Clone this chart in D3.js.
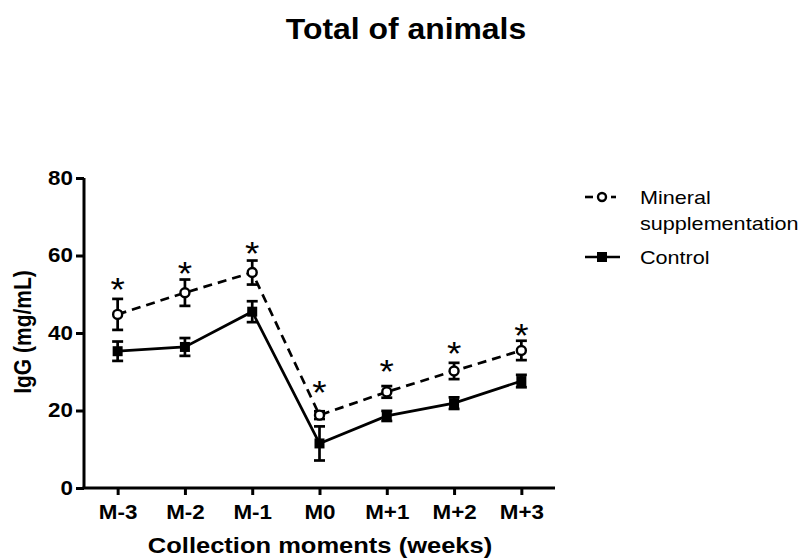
<!DOCTYPE html>
<html>
<head>
<meta charset="utf-8">
<script src="https://cdn.jsdelivr.net/npm/d3@7"></script>
<style>
  html, body { margin: 0; padding: 0; background: #fff; }
  svg { display: block; font-family: "Liberation Sans", Arial, Helvetica, sans-serif; }
</style>
</head>
<body>
<svg id="chart" width="803" height="560"></svg>
<script>
// ---- data ----
const categories = ["M-3", "M-2", "M-1", "M0", "M+1", "M+2", "M+3"];
const mineralMean = [44.8, 50.4, 55.6, 18.8, 24.8, 30.2, 35.5];
const mineralErr  = [4.0, 3.4, 3.1, 1.0, 1.5, 2.1, 2.5];
const controlMean = [35.3, 36.4, 45.5, 11.5, 18.6, 21.9, 27.6];
const controlErr  = [2.5, 2.3, 2.7, 4.4, 1.3, 1.5, 1.6];
const starLevel   = [53.2, 57.3, 62.4, 26.6, 32.1, 36.7, 41.2];
const yTicks = [0, 20, 40, 60, 80];
const seriesNames = ["Mineral", "supplementation", "Control"];

// ---- layout ----
const SX = 1.12; // horizontal stretch of text seen in the reference
const svg = d3.select("#chart");
const x = d3.scalePoint().domain(categories).range([84, 555]).padding(0.5);
const y = d3.scaleLinear().domain([0, 80]).range([488, 178]);

// title
svg.append("text").attr("transform", "translate(406,39) scale(1.1,1)")
  .attr("text-anchor", "middle")
  .attr("font-size", 29).attr("font-weight", "bold").text("Total of animals");

// axes
const yAxis = svg.append("g").attr("transform", "translate(84,0)")
  .call(d3.axisLeft(y).tickValues(yTicks).tickSize(8).tickPadding(3).tickFormat(d3.format("d")));
const xAxis = svg.append("g").attr("transform", "translate(0,488)")
  .call(d3.axisBottom(x).tickSize(7).tickPadding(10).tickSizeOuter(0));
[yAxis, xAxis].forEach(g => {
  g.select(".domain").attr("stroke", "#000").attr("stroke-width", 3);
  g.selectAll(".tick line").attr("stroke", "#000").attr("stroke-width", 3);
  g.selectAll(".tick text").attr("fill", "#000").attr("font-size", 20)
    .attr("font-weight", "bold").attr("font-family", "Liberation Sans, Arial, sans-serif")
    .attr("transform", `scale(${SX},1)`);
});
yAxis.selectAll(".tick text").attr("x", -11 / SX);
yAxis.select(".domain").attr("d", "M0," + y(80) + "V" + y(0));
xAxis.select(".domain").attr("d", "M82.5,0H555");

// axis titles
svg.append("text").attr("transform", "translate(31,332) rotate(-90) scale(1,1.1)")
  .attr("text-anchor", "middle").attr("font-size", 21).attr("font-weight", "bold")
  .text("IgG (mg/mL)");
svg.append("text").attr("transform", "translate(320,553) scale(1.16,1)")
  .attr("text-anchor", "middle")
  .attr("font-size", 22).attr("font-weight", "bold").text("Collection moments (weeks)");

// lines
const line = d3.line().x((d, i) => x(categories[i])).y(d => y(d));
svg.append("path").datum(controlMean).attr("d", line)
  .attr("fill", "none").attr("stroke", "#000").attr("stroke-width", 2.7);
svg.append("path").datum(mineralMean).attr("d", line)
  .attr("fill", "none").attr("stroke", "#000").attr("stroke-width", 2.7)
  .attr("stroke-dasharray", "9,6");

// error bars
function errBars(means, errs) {
  const g = svg.append("g").attr("stroke", "#000").attr("stroke-width", 2.7);
  means.forEach((m, i) => {
    const cx = x(categories[i]);
    const t = y(m + errs[i]), b = y(m - errs[i]);
    g.append("line").attr("x1", cx).attr("x2", cx).attr("y1", t).attr("y2", b);
    g.append("line").attr("x1", cx - 5.5).attr("x2", cx + 5.5).attr("y1", t).attr("y2", t);
    g.append("line").attr("x1", cx - 5.5).attr("x2", cx + 5.5).attr("y1", b).attr("y2", b);
  });
}
errBars(controlMean, controlErr);
errBars(mineralMean, mineralErr);

// markers
svg.append("g").selectAll("rect").data(controlMean).join("rect")
  .attr("x", (d, i) => x(categories[i]) - 5).attr("y", d => y(d) - 5)
  .attr("width", 10).attr("height", 10).attr("fill", "#000");
svg.append("g").selectAll("circle").data(mineralMean).join("circle")
  .attr("cx", (d, i) => x(categories[i])).attr("cy", d => y(d)).attr("r", 4.5)
  .attr("fill", "#fff").attr("stroke", "#000").attr("stroke-width", 2.4);

// significance stars
svg.append("g").selectAll("text").data(starLevel).join("text")
  .attr("transform", (d, i) => `translate(${x(categories[i])},${y(d) + 19}) scale(${SX},1)`)
  .attr("text-anchor", "middle").attr("font-size", 33).text("*");

// legend
const lg = svg.append("g");
lg.append("line").attr("x1", 585).attr("x2", 593).attr("y1", 197).attr("y2", 197)
  .attr("stroke", "#000").attr("stroke-width", 2.6);
lg.append("line").attr("x1", 611).attr("x2", 616).attr("y1", 197).attr("y2", 197)
  .attr("stroke", "#000").attr("stroke-width", 2.6);
lg.append("circle").attr("cx", 602).attr("cy", 197).attr("r", 4)
  .attr("fill", "#fff").attr("stroke", "#000").attr("stroke-width", 2.4);
lg.append("line").attr("x1", 585).attr("x2", 620).attr("y1", 257).attr("y2", 257)
  .attr("stroke", "#000").attr("stroke-width", 2.6);
lg.append("rect").attr("x", 597).attr("y", 252).attr("width", 10).attr("height", 10).attr("fill", "#000");
[[seriesNames[0], 204], [seriesNames[1], 230], [seriesNames[2], 264]].forEach(([t, yy]) => {
  lg.append("text").attr("transform", `translate(640,${yy}) scale(1.2,1)`)
    .attr("font-size", 18).text(t);
});
</script>
</body>
</html>
